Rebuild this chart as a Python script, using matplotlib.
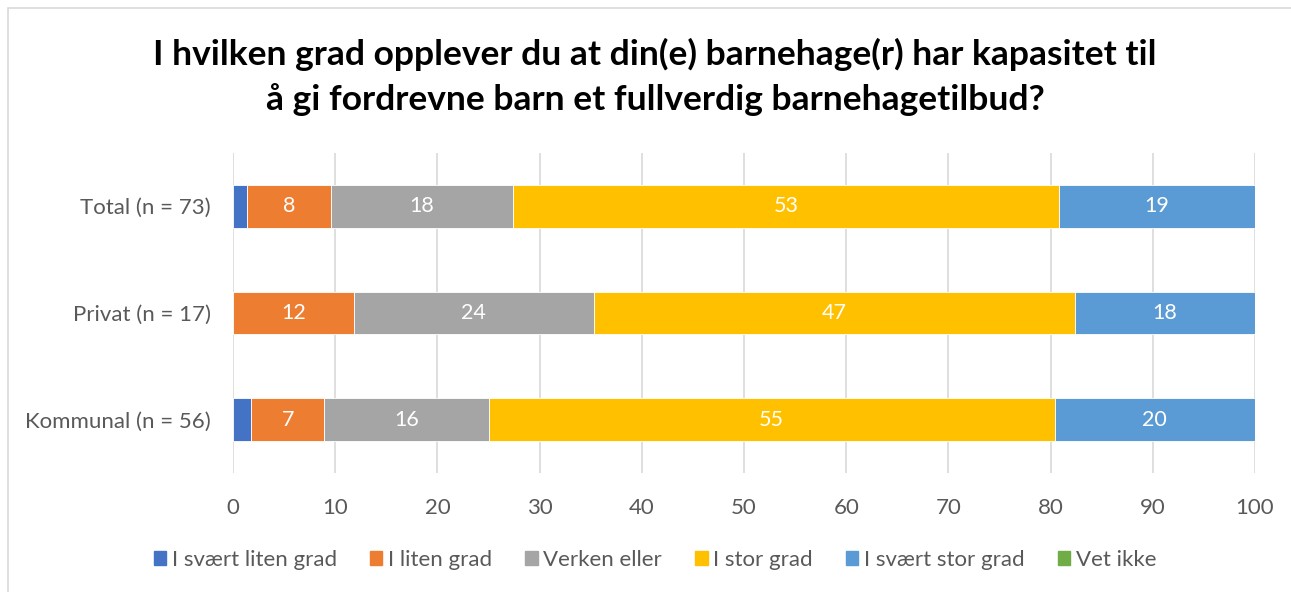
import numpy as np
import matplotlib
matplotlib.use("Agg")
import matplotlib.pyplot as plt
from matplotlib.patches import Rectangle

plt.rcParams["font.family"] = ["Lato", "DejaVu Sans"]

# ─── DONNÉES ─────────────────────────────────────────────────────────────────
groups = ["Total (n = 73)", "Privat (n = 17)", "Kommunal (n = 56)"]
categories = ["I svært liten grad", "I liten grad", "Verken eller",
              "I stor grad", "I svært stor grad", "Vet ikke"]
svaert_liten = [1.4, 0.0, 1.8]
liten = [8.2, 11.8, 7.1]
verken = [17.8, 23.5, 16.1]
stor = [53.4, 47.1, 55.4]
svaert_stor = [19.2, 17.6, 19.6]
vet_ikke = [0.0, 0.0, 0.0]
series = [svaert_liten, liten, verken, stor, svaert_stor, vet_ikke]
colors = ["#4472C4", "#ED7D31", "#A5A5A5", "#FFC000", "#5B9BD5", "#70AD47"]
xticks = [0, 10, 20, 30, 40, 50, 60, 70, 80, 90, 100]

title = ("I hvilken grad opplever du at din(e) barnehage(r) har kapasitet til\n"
         "å gi fordrevne barn et fullverdig barnehagetilbud?")

# ─── FIGURE ──────────────────────────────────────────────────────────────────
W, H = 1291, 592
fig = plt.figure(figsize=(W / 100, H / 100), dpi=100)
ax = fig.add_axes([233 / W, 1 - 473 / H, (1255 - 233) / W, (473 - 153) / H])

# cadre du graphique
fig.patches.append(Rectangle((8 / W, -0.01), 1.1, 1 - 8 / H + 0.01,
                             transform=fig.transFigure, fill=False,
                             edgecolor="#D9D9D9", linewidth=1.2))

y = np.arange(len(groups))
left = np.zeros(len(groups))
for vals, col in zip(series, colors):
    vals = np.array(vals)
    ax.barh(y, vals, left=left, height=0.4, color=col, edgecolor="white",
            linewidth=0.6, zorder=3)
    for yi, l, v in zip(y, left, vals):
        if v >= 5:
            ax.text(l + v / 2, yi, f"{v:.0f}", ha="center", va="center",
                    color="white", fontsize=15.5, zorder=4)
    left += vals

ax.set_xlim(0, 100)
ax.set_ylim(len(groups) - 0.5, -0.5)
ax.set_yticks(y)
ax.set_yticklabels(groups, fontsize=16, color="#595959")
ax.set_xticks(xticks)
ax.set_xticklabels([str(t) for t in xticks], fontsize=16, color="#595959")
ax.tick_params(length=0)
ax.tick_params(axis="y", pad=16)
ax.tick_params(axis="x", pad=18)
ax.grid(axis="x", color="#D9D9D9", linewidth=1.2, zorder=0)
for s in ax.spines.values():
    s.set_visible(False)

fig.text(655 / W, 1 - 77 / H, title, ha="center", va="center",
         fontsize=25.5, fontweight="bold", color="black", linespacing=1.42)

handles = [Rectangle((0, 0), 1, 1, color=c) for c in colors]
fig.legend(handles, categories, loc="center", bbox_to_anchor=(655 / W, 1 - 560 / H),
           ncol=6, frameon=False, fontsize=16, labelcolor="#595959",
           handlelength=0.55, handleheight=0.55, handletextpad=0.25,
           columnspacing=1.5)

fig.savefig("out.png", dpi=100)
